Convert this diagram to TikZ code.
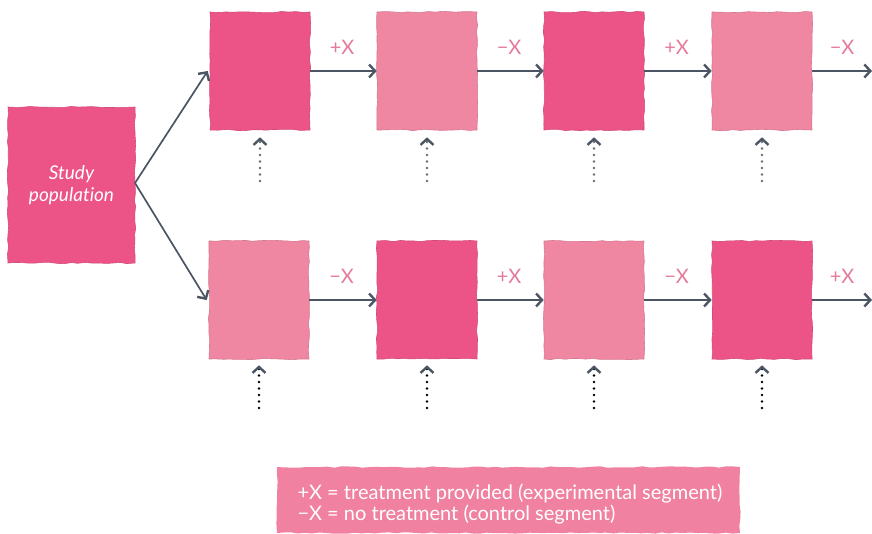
\documentclass[tikz,border=0pt]{standalone}
\usepackage{fontspec}
\setmainfont{Lato}[Ligatures={NoCommon}]
\usetikzlibrary{arrows.meta,decorations.pathmorphing}
\definecolor{darkpink}{HTML}{EC5487}
\definecolor{lightpink}{HTML}{EF86A2}
\definecolor{legendpink}{HTML}{F081A1}
\definecolor{arrowc}{HTML}{4B5563}
\definecolor{labelc}{HTML}{E47A9A}
\definecolor{dotgray}{HTML}{6B6B6B}
\begin{document}
\begin{tikzpicture}[x=1pt,y=-1pt,
  wobbly/.style={decorate,decoration={random steps,segment length=7pt,amplitude=0.7pt}},
  stagebox/.style={minimum width=100pt,minimum height=118pt,inner sep=0pt,wobbly},
  darkbox/.style={stagebox,fill=darkpink,draw=darkpink!90!black,line width=0.6pt},
  lightbox/.style={stagebox,fill=lightpink,draw=lightpink!90!black,line width=0.6pt},
  conn/.style={draw=arrowc,line width=1.7pt,-{Straight Barb[length=6pt,width=13pt,line width=2.4pt]}},
  lab/.style={text=labelc,font=\fontsize{20}{20}\selectfont},
  dotup/.style={draw=#1,line width=2.8pt,dash pattern=on 0pt off 6.5pt,line cap=round,
    -{Straight Barb[length=6pt,width=13pt,line width=2.4pt,color=arrowc,line cap=butt]}},
]
\useasboundingbox (0,0) rectangle (872,534);
% study population
\node[darkbox,minimum width=127pt,minimum height=156pt,text=white,align=center,
  font=\itshape\fontsize{19}{22}\selectfont] (sp) at (71.5,185) {Study\\population};
% top row
\node[darkbox]  (t1) at (260,71) {};
\node[lightbox] (t2) at (427,71) {};
\node[darkbox]  (t3) at (594,71) {};
\node[lightbox] (t4) at (762,71) {};
\coordinate (tend) at (872,71);
% bottom row
\node[lightbox] (b1) at (259,300) {};
\node[darkbox]  (b2) at (427,300) {};
\node[lightbox] (b3) at (594,300) {};
\node[darkbox]  (b4) at (762,300) {};
\coordinate (bend) at (872,300);
% branches
\coordinate (spo) at (135,183);
\draw[conn] (spo) -- ([xshift=-2pt]t1.west);
\draw[conn] (spo) -- ([xshift=-2pt]b1.west);
% top arrows
\draw[conn] (t1.east) -- node[lab,pos=0.48,above=12pt]{+X} (t2.west);
\draw[conn] (t2.east) -- node[lab,pos=0.48,above=12pt]{−X} (t3.west);
\draw[conn] (t3.east) -- node[lab,pos=0.48,above=12pt]{+X} (t4.west);
\draw[conn] (t4.east) -- node[lab,pos=0.5,above=12pt]{−X} (tend);
% bottom arrows
\draw[conn] (b1.east) -- node[lab,pos=0.48,above=12pt]{−X} (b2.west);
\draw[conn] (b2.east) -- node[lab,pos=0.48,above=12pt]{+X} (b3.west);
\draw[conn] (b3.east) -- node[lab,pos=0.48,above=12pt]{−X} (b4.west);
\draw[conn] (b4.east) -- node[lab,pos=0.5,above=12pt]{+X} (bend);
% dotted inputs top
\foreach \n/\x in {t1/260,t2/427,t3/594,t4/762}{
  \coordinate (d\n) at (\x,181);
  \draw[dotup=dotgray] (d\n) -- ([yshift=-7pt]\n.south);
}
\foreach \n/\x in {b1/259,b2/427,b3/594,b4/762}{
  \coordinate (d\n) at (\x,408);
  \draw[dotup=black] (d\n) -- ([yshift=-6pt]\n.south);
}
% legend
\node[fill=legendpink,wobbly,minimum width=463pt,minimum height=66pt,inner sep=0pt] (leg) at (508.5,500) {};
\node[anchor=west,text=white,align=left,font=\fontsize{20}{21.5}\selectfont] (legtext) at (294,504)
  {+X = treatment provided (experimental segment)\\−X = no treatment (control segment)};
\end{tikzpicture}
\end{document}
